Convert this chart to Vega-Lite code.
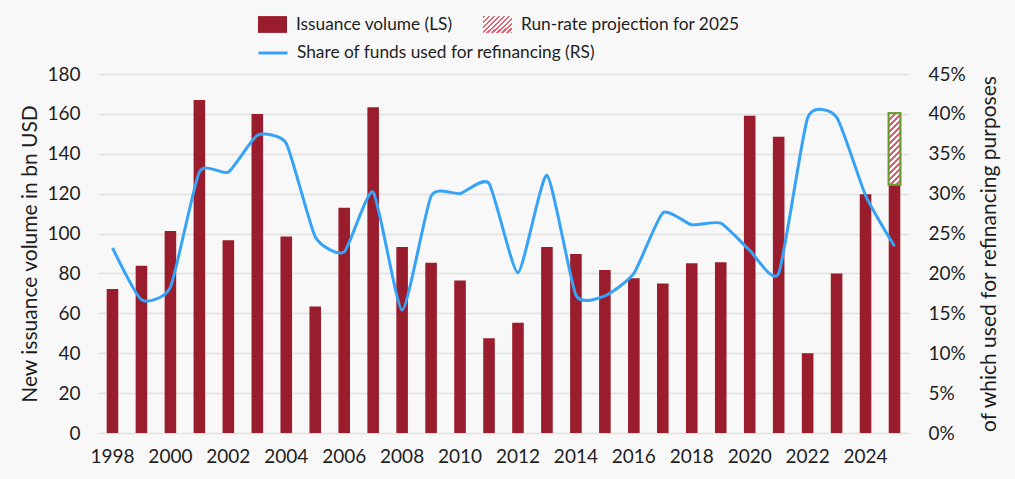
{
  "$schema": "https://vega.github.io/schema/vega-lite/v6.json",
  "width": 811,
  "height": 359,
  "autosize": {"type": "none"},
  "padding": {"left": 98, "top": 74, "right": 106, "bottom": 46},
  "background": "#f8f8f8",
  "config": {
    "font": "Lato",
    "view": {"stroke": null},
    "axis": {
      "labelFont": "Lato",
      "titleFont": "Lato",
      "labelFontSize": 19,
      "titleFontSize": 21,
      "labelColor": "#1e1e1e",
      "titleColor": "#1e1e1e",
      "titleFontWeight": "normal",
      "ticks": false,
      "domain": false,
      "gridColor": "#e0e0e0",
      "gridOpacity": 1
    },
    "legend": {
      "labelFont": "Lato",
      "labelFontSize": 17.3,
      "labelColor": "#1e1e1e",
      "labelLimit": 600,
      "labelOffset": 8,
      "padding": 0
    }
  },
  "data": {
    "values": [
      {"year": 1998, "volume": 72.2, "share": 0.232},
      {"year": 1999, "volume": 83.9, "share": 0.167},
      {"year": 2000, "volume": 101.3, "share": 0.183},
      {"year": 2001, "volume": 167, "share": 0.327},
      {"year": 2002, "volume": 96.6, "share": 0.327},
      {"year": 2003, "volume": 160, "share": 0.373},
      {"year": 2004, "volume": 98.5, "share": 0.363},
      {"year": 2005, "volume": 63.4, "share": 0.246},
      {"year": 2006, "volume": 113, "share": 0.227},
      {"year": 2007, "volume": 163.3, "share": 0.302},
      {"year": 2008, "volume": 93.3, "share": 0.154},
      {"year": 2009, "volume": 85.3, "share": 0.297},
      {"year": 2010, "volume": 76.4, "share": 0.3},
      {"year": 2011, "volume": 47.5, "share": 0.313},
      {"year": 2012, "volume": 55.3, "share": 0.201},
      {"year": 2013, "volume": 93.3, "share": 0.323},
      {"year": 2014, "volume": 89.8, "share": 0.173},
      {"year": 2015, "volume": 81.7, "share": 0.172},
      {"year": 2016, "volume": 77.6, "share": 0.2},
      {"year": 2017, "volume": 75, "share": 0.276},
      {"year": 2018, "volume": 85.1, "share": 0.261},
      {"year": 2019, "volume": 85.6, "share": 0.263},
      {"year": 2020, "volume": 159.1, "share": 0.229},
      {"year": 2021, "volume": 148.6, "share": 0.2},
      {"year": 2022, "volume": 40, "share": 0.395},
      {"year": 2023, "volume": 80, "share": 0.396},
      {"year": 2024, "volume": 119.7, "share": 0.298},
      {"year": 2025, "volume": 124.5, "share": 0.234, "projection": 160.3}
    ]
  },
  "encoding": {
    "x": {
      "field": "year",
      "type": "ordinal",
      "scale": {"paddingInner": 0.6, "paddingOuter": 0.3},
      "axis": {
        "title": null,
        "labelAngle": 0,
        "values": [1998, 2000, 2002, 2004, 2006, 2008, 2010, 2012, 2014, 2016, 2018, 2020, 2022, 2024],
        "labelPadding": 14,
        "grid": false
      }
    }
  },
  "layer": [
    {
      "mark": {"type": "bar", "color": "#9a1d2d"},
      "encoding": {
        "y": {
          "field": "volume",
          "type": "quantitative",
          "scale": {"domain": [0, 180]},
          "axis": {
            "title": "New issuance volume in bn USD",
            "values": [0, 20, 40, 60, 80, 100, 120, 140, 160, 180],
            "labelOverlap": false,
            "grid": true,
            "gridColor": "#e0e0e0",
            "gridOpacity": 1,
            "gridWidth": 1.5,
            "zindex": 0,
            "labelPadding": 18,
            "titlePadding": 6
          }
        },
        "opacity": {
          "datum": "Issuance volume (LS)",
          "type": "ordinal",
          "scale": {"domain": ["Issuance volume (LS)"], "range": [1]},
          "legend": {
            "orient": "none",
            "legendX": 159,
            "legendY": -65,
            "title": null,
            "symbolSize": 841,
            "symbolType": "M-1,-0.58H1V0.58H-1Z"
          }
        }
      }
    },
    {
      "transform": [{"filter": "datum.projection != null"}],
      "mark": {
        "type": "bar",
        "stroke": "#6a9b30",
        "fill": {
          "gradient": "linear", "x1": 0, "y1": 0, "x2": 1.8, "y2": 1.05,
          "stops": [
            {"offset": 0, "color": "#e5606c"}, {"offset": 0.0357, "color": "#e5606c"},
            {"offset": 0.0357, "color": "#ffffff"}, {"offset": 0.0714, "color": "#ffffff"},
            {"offset": 0.0714, "color": "#e5606c"}, {"offset": 0.1071, "color": "#e5606c"},
            {"offset": 0.1071, "color": "#ffffff"}, {"offset": 0.1429, "color": "#ffffff"},
            {"offset": 0.1429, "color": "#e5606c"}, {"offset": 0.1786, "color": "#e5606c"},
            {"offset": 0.1786, "color": "#ffffff"}, {"offset": 0.2143, "color": "#ffffff"},
            {"offset": 0.2143, "color": "#e5606c"}, {"offset": 0.25, "color": "#e5606c"},
            {"offset": 0.25, "color": "#ffffff"}, {"offset": 0.2857, "color": "#ffffff"},
            {"offset": 0.2857, "color": "#e5606c"}, {"offset": 0.3214, "color": "#e5606c"},
            {"offset": 0.3214, "color": "#ffffff"}, {"offset": 0.3571, "color": "#ffffff"},
            {"offset": 0.3571, "color": "#e5606c"}, {"offset": 0.3929, "color": "#e5606c"},
            {"offset": 0.3929, "color": "#ffffff"}, {"offset": 0.4286, "color": "#ffffff"},
            {"offset": 0.4286, "color": "#e5606c"}, {"offset": 0.4643, "color": "#e5606c"},
            {"offset": 0.4643, "color": "#ffffff"}, {"offset": 0.5, "color": "#ffffff"},
            {"offset": 0.5, "color": "#e5606c"}, {"offset": 0.5357, "color": "#e5606c"},
            {"offset": 0.5357, "color": "#ffffff"}, {"offset": 0.5714, "color": "#ffffff"},
            {"offset": 0.5714, "color": "#e5606c"}, {"offset": 0.6071, "color": "#e5606c"},
            {"offset": 0.6071, "color": "#ffffff"}, {"offset": 0.6429, "color": "#ffffff"},
            {"offset": 0.6429, "color": "#e5606c"}, {"offset": 0.6786, "color": "#e5606c"},
            {"offset": 0.6786, "color": "#ffffff"}, {"offset": 0.7143, "color": "#ffffff"},
            {"offset": 0.7143, "color": "#e5606c"}, {"offset": 0.75, "color": "#e5606c"},
            {"offset": 0.75, "color": "#ffffff"}, {"offset": 0.7857, "color": "#ffffff"},
            {"offset": 0.7857, "color": "#e5606c"}, {"offset": 0.8214, "color": "#e5606c"},
            {"offset": 0.8214, "color": "#ffffff"}, {"offset": 0.8571, "color": "#ffffff"},
            {"offset": 0.8571, "color": "#e5606c"}, {"offset": 0.8929, "color": "#e5606c"},
            {"offset": 0.8929, "color": "#ffffff"}, {"offset": 0.9286, "color": "#ffffff"},
            {"offset": 0.9286, "color": "#e5606c"}, {"offset": 0.9643, "color": "#e5606c"},
            {"offset": 0.9643, "color": "#ffffff"}, {"offset": 1, "color": "#ffffff"}
          ]
        }
      },
      "encoding": {
        "y": {"field": "projection", "type": "quantitative", "scale": {"domain": [0, 180]}, "axis": null},
        "y2": {"field": "volume"},
        "strokeWidth": {
          "datum": "Run-rate projection for 2025",
          "type": "nominal",
          "scale": {"type": "ordinal", "domain": ["Run-rate projection for 2025"], "range": [2]},
          "legend": {
            "orient": "none",
            "legendX": 384,
            "legendY": -65,
            "title": null,
            "symbolSize": 841,
            "symbolType": "M-1,-0.58H1V0.58H-1Z",
            "symbolStrokeColor": "#6a9b30"
          }
        }
      }
    },
    {
      "transform": [{"filter": "datum.projection != null"}],
      "mark": {
        "type": "bar",
        "stroke": "#6a9b30",
        "strokeWidth": 2,
        "fill": {
          "gradient": "linear", "x1": 0, "y1": 0, "x2": 0.186, "y2": 1.134,
          "stops": [
            {"offset": 0, "color": "#e5606c"}, {"offset": 0.0357, "color": "#e5606c"},
            {"offset": 0.0357, "color": "#ffffff"}, {"offset": 0.0714, "color": "#ffffff"},
            {"offset": 0.0714, "color": "#e5606c"}, {"offset": 0.1071, "color": "#e5606c"},
            {"offset": 0.1071, "color": "#ffffff"}, {"offset": 0.1429, "color": "#ffffff"},
            {"offset": 0.1429, "color": "#e5606c"}, {"offset": 0.1786, "color": "#e5606c"},
            {"offset": 0.1786, "color": "#ffffff"}, {"offset": 0.2143, "color": "#ffffff"},
            {"offset": 0.2143, "color": "#e5606c"}, {"offset": 0.25, "color": "#e5606c"},
            {"offset": 0.25, "color": "#ffffff"}, {"offset": 0.2857, "color": "#ffffff"},
            {"offset": 0.2857, "color": "#e5606c"}, {"offset": 0.3214, "color": "#e5606c"},
            {"offset": 0.3214, "color": "#ffffff"}, {"offset": 0.3571, "color": "#ffffff"},
            {"offset": 0.3571, "color": "#e5606c"}, {"offset": 0.3929, "color": "#e5606c"},
            {"offset": 0.3929, "color": "#ffffff"}, {"offset": 0.4286, "color": "#ffffff"},
            {"offset": 0.4286, "color": "#e5606c"}, {"offset": 0.4643, "color": "#e5606c"},
            {"offset": 0.4643, "color": "#ffffff"}, {"offset": 0.5, "color": "#ffffff"},
            {"offset": 0.5, "color": "#e5606c"}, {"offset": 0.5357, "color": "#e5606c"},
            {"offset": 0.5357, "color": "#ffffff"}, {"offset": 0.5714, "color": "#ffffff"},
            {"offset": 0.5714, "color": "#e5606c"}, {"offset": 0.6071, "color": "#e5606c"},
            {"offset": 0.6071, "color": "#ffffff"}, {"offset": 0.6429, "color": "#ffffff"},
            {"offset": 0.6429, "color": "#e5606c"}, {"offset": 0.6786, "color": "#e5606c"},
            {"offset": 0.6786, "color": "#ffffff"}, {"offset": 0.7143, "color": "#ffffff"},
            {"offset": 0.7143, "color": "#e5606c"}, {"offset": 0.75, "color": "#e5606c"},
            {"offset": 0.75, "color": "#ffffff"}, {"offset": 0.7857, "color": "#ffffff"},
            {"offset": 0.7857, "color": "#e5606c"}, {"offset": 0.8214, "color": "#e5606c"},
            {"offset": 0.8214, "color": "#ffffff"}, {"offset": 0.8571, "color": "#ffffff"},
            {"offset": 0.8571, "color": "#e5606c"}, {"offset": 0.8929, "color": "#e5606c"},
            {"offset": 0.8929, "color": "#ffffff"}, {"offset": 0.9286, "color": "#ffffff"},
            {"offset": 0.9286, "color": "#e5606c"}, {"offset": 0.9643, "color": "#e5606c"},
            {"offset": 0.9643, "color": "#ffffff"}, {"offset": 1, "color": "#ffffff"}
          ]
        }
      },
      "encoding": {
        "y": {"field": "projection", "type": "quantitative", "scale": {"domain": [0, 180]}, "axis": null},
        "y2": {"field": "volume"}
      }
    },
    {
      "mark": {"type": "line", "interpolate": "cardinal", "tension": 0.45, "strokeWidth": 3},
      "encoding": {
        "y": {
          "field": "share",
          "type": "quantitative",
          "scale": {"domain": [0, 0.45]},
          "axis": {
            "orient": "right",
            "title": "of which used for refinancing purposes",
            "format": ".0%",
            "values": [0, 0.05, 0.1, 0.15, 0.2, 0.25, 0.3, 0.35, 0.4, 0.45],
            "labelOverlap": false,
            "grid": false,
            "labelPadding": 19,
            "titlePadding": 34,
            "titleAngle": 270
          }
        },
        "stroke": {
          "datum": "Share of funds used for refinancing (RS)",
          "scale": {"range": ["#36a3f7"]},
          "legend": {
            "orient": "none",
            "legendX": 159,
            "legendY": -37,
            "title": null,
            "symbolType": "stroke",
            "symbolSize": 841,
            "symbolStrokeWidth": 3
          }
        }
      }
    }
  ],
  "resolve": {"scale": {"y": "independent"}}
}
